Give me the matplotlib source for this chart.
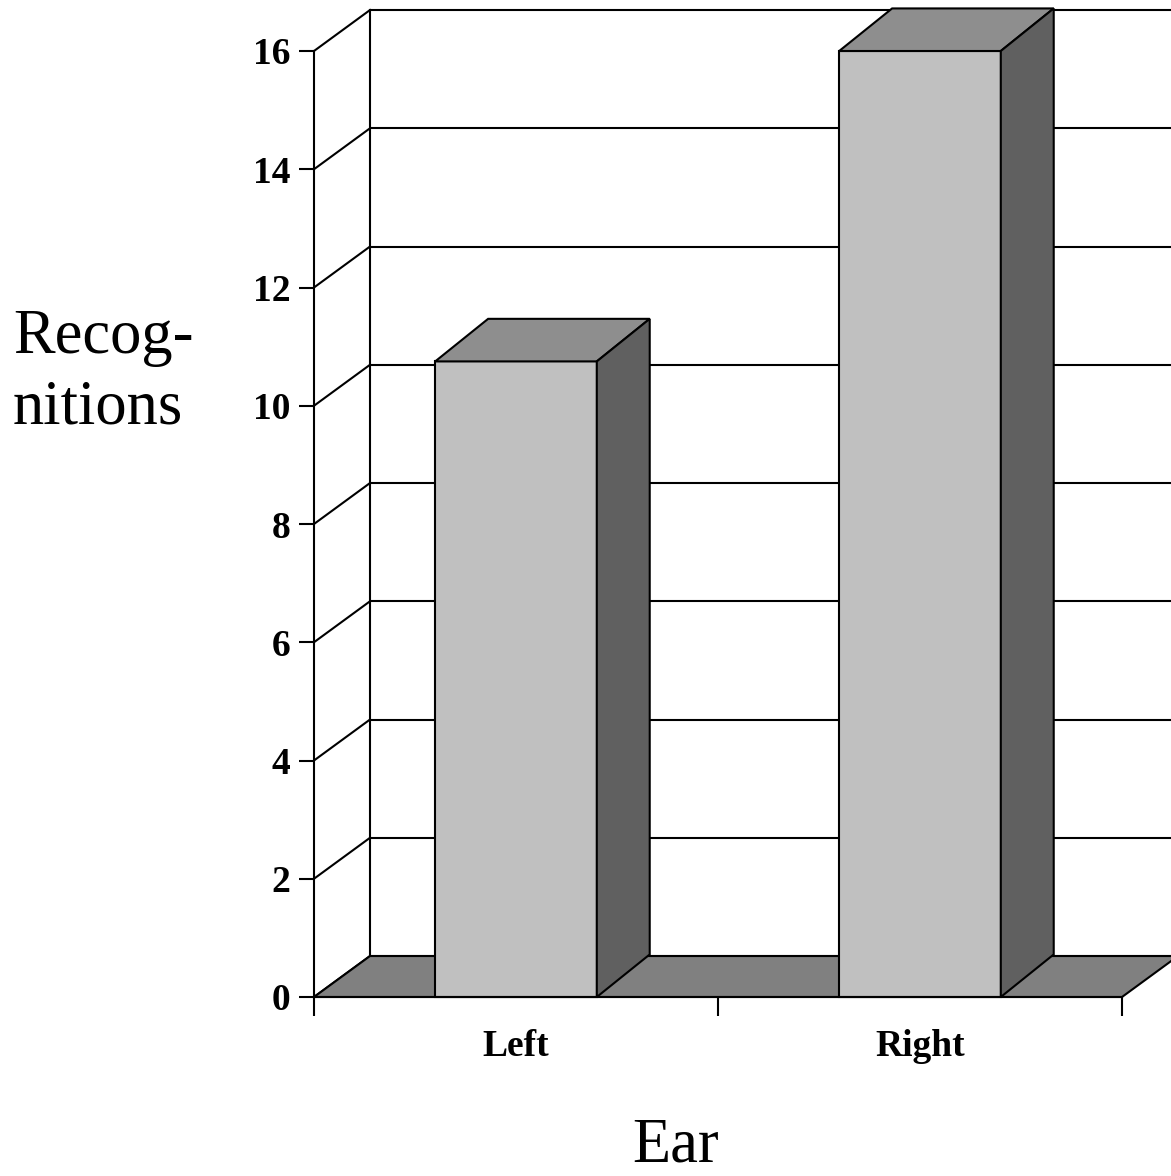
import matplotlib
matplotlib.use("Agg")
from matplotlib import pyplot as plt
from matplotlib.patches import Polygon

plt.rcParams['font.family'] = ['Liberation Serif', 'DejaVu Serif']

ears = ["Left", "Right"]
recognitions = [10.75, 16]
y_ticks = [0, 2, 4, 6, 8, 10, 12, 14, 16]

# depth offsets (data units) for the walls and the bar blocks
WALL_DX, WALL_DY = 0.1386, 0.693
BAR_DX, BAR_DY = 0.131, 0.72
BAR_W = 0.4

FRONT = "#c0c0c0"
TOP = "#8e8e8e"
SIDE = "#606060"
FLOOR = "#808080"
LW = 1.5

fig = plt.figure(figsize=(11.71, 11.76), dpi=100)
ax = fig.add_axes([314 / 1171, 1 - 997 / 1176, 808 / 1171, 946 / 1176])
ax.set_xlim(0, 2)
ax.set_ylim(0, 16)
ax.patch.set_visible(False)
for s in ["top", "right"]:
    ax.spines[s].set_visible(False)
for s in ["left", "bottom"]:
    ax.spines[s].set_linewidth(LW)
    ax.spines[s].set_zorder(5)

# back wall gridlines + left wall diagonals
for v in y_ticks:
    ax.plot([WALL_DX, 2.3], [v + WALL_DY, v + WALL_DY], color="black", lw=LW,
            clip_on=False, zorder=1, solid_capstyle="butt")
    ax.plot([0, WALL_DX], [v, v + WALL_DY], color="black", lw=LW,
            clip_on=False, zorder=1)
ax.plot([WALL_DX, WALL_DX], [WALL_DY, 16 + WALL_DY], color="black", lw=LW,
        clip_on=False, zorder=1)

# floor
floor = Polygon([(0, 0), (2, 0), (2 + WALL_DX, WALL_DY), (WALL_DX, WALL_DY)],
                closed=True, fc=FLOOR, ec="black", lw=LW, clip_on=False, zorder=2)
ax.add_patch(floor)

# bars as 3d blocks
for i, v in enumerate(recognitions):
    x0 = i + 0.5 - BAR_W / 2
    x1 = i + 0.5 + BAR_W / 2
    front = Polygon([(x0, 0), (x1, 0), (x1, v), (x0, v)],
                    fc=FRONT, ec="black", lw=LW, clip_on=False, zorder=3)
    top = Polygon([(x0, v), (x1, v), (x1 + BAR_DX, v + BAR_DY), (x0 + BAR_DX, v + BAR_DY)],
                  fc=TOP, ec="black", lw=LW, clip_on=False, zorder=3)
    side = Polygon([(x1, 0), (x1 + BAR_DX, BAR_DY), (x1 + BAR_DX, v + BAR_DY), (x1, v)],
                   fc=SIDE, ec="black", lw=LW, clip_on=False, zorder=3)
    for p in (front, top, side):
        ax.add_patch(p)

ax.set_yticks(y_ticks)
ax.set_yticklabels([str(t) for t in y_ticks], fontsize=27, fontweight="bold")
ax.tick_params(axis="y", direction="out", length=11, width=LW, pad=6)

ax.set_xticks([0, 1, 2])
ax.set_xticklabels([])
ax.tick_params(axis="x", which="major", direction="out", length=14, width=LW)
ax.set_xticks([0.5, 1.5], minor=True)
ax.set_xticklabels(ears, minor=True, fontsize=27, fontweight="bold")
ax.tick_params(axis="x", which="minor", length=0, pad=23)

fig.text(13 / 1171, 1 - 373 / 1176, "Recog-\nnitions", fontsize=45,
         ha="left", va="center", linespacing=1.29)
fig.text(676 / 1171, 1 - 1162 / 1176, "Ear", fontsize=45, ha="center", va="baseline")

fig.savefig("out.png", dpi=100)
